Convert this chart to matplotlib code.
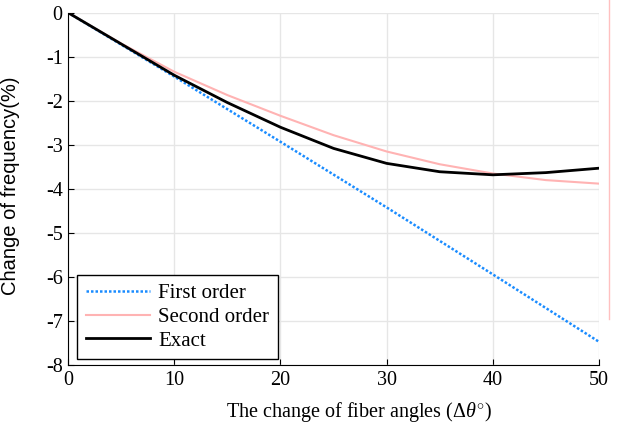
import numpy as np
import matplotlib.pyplot as plt
from matplotlib.lines import Line2D

plt.rcParams['font.family'] = ['Liberation Serif', 'DejaVu Serif']
plt.rcParams['axes.unicode_minus'] = False
plt.rcParams['mathtext.fontset'] = 'custom'
plt.rcParams['mathtext.rm'] = 'Liberation Serif'
plt.rcParams['mathtext.it'] = 'Liberation Serif:italic'

# fiber angle change (deg)
angles = [0, 5, 10, 15, 20, 25, 30, 35, 40, 45, 50]
first_angles = [0, 10, 20, 30, 40, 50]
first_order = [0, -1.45, -2.93, -4.42, -5.94, -7.47]
second_order = [0, -0.70, -1.34, -1.87, -2.34, -2.78, -3.15, -3.44, -3.65, -3.80, -3.88]
exact = [0, -0.71, -1.42, -2.04, -2.60, -3.08, -3.42, -3.61, -3.68, -3.63, -3.53]

fig = plt.figure(figsize=(6.2, 4.25), dpi=100)
ax = fig.add_axes([0.110, 0.141, 0.856, 0.829])

ax.plot(first_angles, first_order, color='#1a8cff', linestyle=(0, (1, 0.8)), linewidth=1.8, label='First order')
ax.plot(angles, second_order, color='#ffb3b3', linewidth=1.5, label='Second order')
ax.plot(angles, exact, color='black', linewidth=2, label='Exact')

ax.set_xlim(0, 50)
ax.set_ylim(-8, 0)
ax.set_xticks(np.arange(0, 51, 10))
ax.set_yticks(np.arange(-8, 1, 1))
ax.grid(True, color='#e6e6e6', linewidth=1)
ax.set_axisbelow(True)
ax.spines['top'].set_visible(False)
ax.spines['right'].set_visible(False)
ax.tick_params(direction='in', labelsize=14.5, length=4, pad=4)

ax.set_xlabel(r'The change of fiber angles ($\Delta\theta^{\circ}$)', fontsize=14.5)
ax.xaxis.set_label_coords(0.548, -0.100)
ax.set_ylabel('Change of frequency(%)', fontsize=14.5, family=['Liberation Sans', 'DejaVu Sans'])
ax.yaxis.set_label_coords(-0.090, 0.51)

leg = ax.legend(loc='lower left', bbox_to_anchor=(0.017, 0.017), fontsize=15,
                frameon=True, fancybox=False, edgecolor='black', framealpha=1,
                handlelength=3.1, handletextpad=0.4, borderaxespad=0,
                labelspacing=0.2, borderpad=0.4)
leg.get_frame().set_linewidth(1.0)

# stray pink line at the right of the source image
fig.add_artist(Line2D([0.982, 0.982], [0.25, 1.0], color='#ffc0c0', linewidth=1))

fig.savefig('out.png', dpi=100)
